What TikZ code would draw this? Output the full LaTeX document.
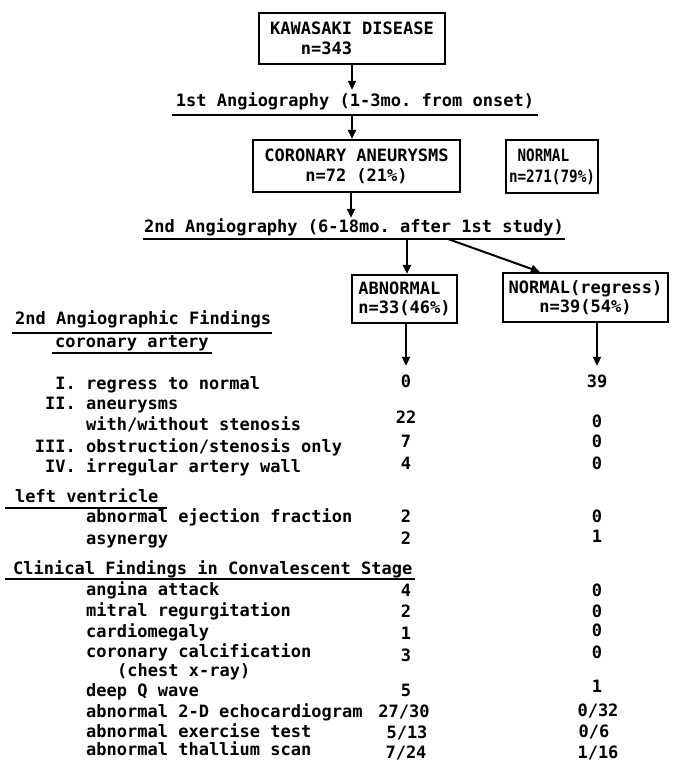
\documentclass[tikz,border=0pt]{standalone}
\usepackage{fontspec}
\setmonofont{DejaVu Sans Mono}
\newfontfamily\narrowtt[FakeStretch=0.84]{DejaVu Sans Mono}
\usepackage{tikz}
\usetikzlibrary{arrows.meta, positioning}
\newcommand{\chartfont}{\ttfamily\bfseries\fontsize{17}{20}\selectfont}
\tikzset{
  flowbox/.style={
    draw, line width=2.2pt, align=center, inner sep=0pt,
    font=\chartfont
  },
  flowarrow/.style={
    -{Triangle[length=9pt,width=8pt]}, line width=2pt
  },
  ruleline/.style={line width=1.8pt},
  headtext/.style={
    inner sep=0pt, text height=12.5pt, text depth=3.5pt,
    font=\chartfont
  },
  itemtext/.style={headtext, anchor=west},
  numtext/.style={headtext, anchor=east},
  valtext/.style={headtext},
}

\begin{document}
\begin{tikzpicture}[x=1pt, y=-1pt]
  \useasboundingbox (0,0) rectangle (679,764);

  % ---- TOP: FLOW OF THE STUDY ----
  \node[flowbox, align=left, minimum width=186pt, minimum height=51pt]
    (kawa) at (352,38.5) {KAWASAKI DISEASE\\\hphantom{KAW}n=343};

  \node[headtext] (ang1) at (355,102) {1st Angiography (1-3mo. from onset)};
  \draw[ruleline] (172,115) -- (538,115);
  \coordinate (cross1) at (352,115);

  \node[flowbox, minimum width=207pt, minimum height=52pt]
    (coro) at (356.5,166) {CORONARY ANEURYSMS\\n=72 (21\%)};
  \node[flowbox, align=left, minimum width=92pt, minimum height=53pt,
    font=\narrowtt\bfseries\fontsize{17}{21}\selectfont]
    (norm) at (552,166.5) {\hphantom{n}NORMAL\\n=271(79\%)};

  \node[headtext] (ang2) at (354,228) {2nd Angiography (6-18mo. after 1st study)};
  \draw[ruleline] (143,239) -- (565,239);
  \coordinate (cross2a) at (407,239);
  \coordinate (cross2b) at (448,239);

  % Results of the 2nd study
  \node[flowbox, align=left, minimum width=105pt, minimum height=48pt,
    font=\ttfamily\bfseries\fontsize{17}{19}\selectfont]
    (abn) at (404.5,299) {ABNORMAL\\n=33(46\%)};
  \node[flowbox, minimum width=165pt, minimum height=49pt,
    font=\ttfamily\bfseries\fontsize{17}{19}\selectfont]
    (nreg) at (585.5,297.5) {NORMAL(regress)\\n=39(54\%)};

  % ---- LEFT: FINDINGS ----
  \node[itemtext] (hdangio) at (15,320) {2nd Angiographic Findings};
  \draw[ruleline] (12,333) -- (272,333);
  \node[itemtext] (hdcoro) at (55,343) {coronary artery};
  \draw[ruleline] (52,353) -- (212,353);

  \node[numtext] (numI) at (76,385) {I.};
  \node[itemtext] (itI) at (86,385) {regress to normal};
  \node[numtext] (numII) at (76,405) {II.};
  \node[itemtext] (itII) at (86,405) {aneurysms};
  \node[itemtext] (itIIb) at (86,426) {with/without stenosis};
  \node[numtext] (numIII) at (76,448) {III.};
  \node[itemtext] (itIII) at (86,448) {obstruction/stenosis only};
  \node[numtext] (numIV) at (76,468) {IV.};
  \node[itemtext] (itIV) at (86,468) {irregular artery wall};

  \node[itemtext] (hdlv) at (15,498) {left ventricle};
  \draw[ruleline] (5,508) -- (167,508);
  \node[itemtext] (itef) at (86,518) {abnormal ejection fraction};
  \node[itemtext] (itasy) at (86,540) {asynergy};

  \node[itemtext] (hdclin) at (13,570) {Clinical Findings in Convalescent Stage};
  \draw[ruleline] (5,579) -- (415,579);
  \node[itemtext] (itang) at (86,591) {angina attack};
  \node[itemtext] (itmit) at (86,612) {mitral regurgitation};
  \node[itemtext] (itcar) at (86,633) {cardiomegaly};
  \node[itemtext] (itcal) at (86,653) {coronary calcification};
  \node[itemtext] (itcxr) at (117,672) {(chest x-ray)};
  \node[itemtext] (itq) at (86,692) {deep Q wave};
  \node[itemtext] (itecho) at (86,713) {abnormal 2-D echocardiogram};
  \node[itemtext] (itex) at (86,733) {abnormal exercise test};
  \node[itemtext] (itthal) at (86,751) {abnormal thallium scan};

  % ---- VALUES: ABNORMAL column ----
  \node[valtext] (va1) at (406,383) {0};
  \node[valtext] (va2) at (406,419) {22};
  \node[valtext] (va3) at (406,443) {7};
  \node[valtext] (va4) at (406,465) {4};
  \node[valtext] (va5) at (406,518) {2};
  \node[valtext] (va6) at (406,540) {2};
  \node[valtext] (va7) at (406,592) {4};
  \node[valtext] (va8) at (406,613) {2};
  \node[valtext] (va9) at (406,635) {1};
  \node[valtext] (va10) at (406,657) {3};
  \node[valtext] (va11) at (406,692) {5};
  \node[valtext] (va12) at (404,713) {27/30};
  \node[valtext] (va13) at (407,734) {5/13};
  \node[valtext] (va14) at (406,754) {7/24};

  % ---- VALUES: NORMAL(regress) column ----
  \node[valtext] (vb1) at (597,383) {39};
  \node[valtext] (vb2) at (597,423) {0};
  \node[valtext] (vb3) at (597,443) {0};
  \node[valtext] (vb4) at (597,465) {0};
  \node[valtext] (vb5) at (597,518) {0};
  \node[valtext] (vb6) at (597,538) {1};
  \node[valtext] (vb7) at (597,592) {0};
  \node[valtext] (vb8) at (597,613) {0};
  \node[valtext] (vb9) at (597,632) {0};
  \node[valtext] (vb10) at (597,654) {0};
  \node[valtext] (vb11) at (597,688) {1};
  \node[valtext] (vb12) at (598,712) {0/32};
  \node[valtext] (vb13) at (594,733) {0/6};
  \node[valtext] (vb14) at (598,754) {1/16};

  % ---- ARROWS ----
  \draw[flowarrow, shorten >=4pt] (kawa.south) -- (kawa.south |- ang1.north);
  \draw[flowarrow] (cross1) -- (cross1 |- coro.north);
  \draw[flowarrow, shorten >=2pt] ([xshift=-5.5pt]coro.south)
    -- ([xshift=-5.5pt]coro.south |- ang2.north);
  \draw[flowarrow] (cross2a) -- (cross2a |- abn.north);
  \draw[flowarrow] (cross2b) -- ([xshift=38pt]nreg.north west);
  \draw[flowarrow, shorten >=9pt] (abn.south -| va1) -- (va1.north);
  \draw[flowarrow, shorten >=9pt] (nreg.south -| vb1) -- (vb1.north);
\end{tikzpicture}
\end{document}
